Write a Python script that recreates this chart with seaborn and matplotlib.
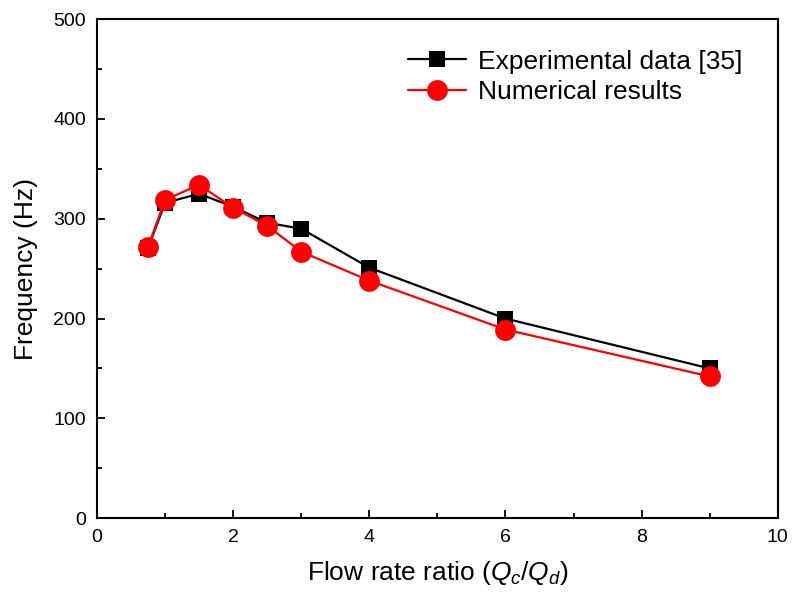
import pandas as pd
import seaborn as sns
import matplotlib.pyplot as plt
from matplotlib.ticker import MultipleLocator

# data
ratio = [0.75, 1, 1.5, 2, 2.5, 3, 4, 6, 9]
freq_exp = [271, 316, 325, 312, 296, 290, 251, 200, 150]
freq_num = [272, 319, 334, 311, 293, 267, 238, 189, 142]

sns.set_style("ticks")
plt.rcParams['font.family'] = ['Liberation Sans', 'DejaVu Sans']
plt.rcParams['mathtext.fontset'] = 'custom'
plt.rcParams['mathtext.it'] = 'Liberation Sans:italic'
plt.rcParams['mathtext.rm'] = 'Liberation Sans'
plt.rcParams['text.color'] = 'black'
plt.rcParams['axes.labelcolor'] = 'black'
plt.rcParams['xtick.color'] = 'black'
plt.rcParams['ytick.color'] = 'black'

df_exp = pd.DataFrame({"ratio": ratio, "freq": freq_exp})
df_num = pd.DataFrame({"ratio": ratio, "freq": freq_num})

fig = plt.figure(figsize=(7.92, 5.99), dpi=100)
ax = fig.add_axes([0.1225, 0.135, 0.8595, 0.833])

sns.lineplot(data=df_exp, x="ratio", y="freq", ax=ax, color="black",
             marker="s", markersize=12, linewidth=1.6, markeredgewidth=0,
             label="Experimental data [35]")
sns.lineplot(data=df_num, x="ratio", y="freq", ax=ax, color="red",
             marker="o", markersize=15, linewidth=1.6, markeredgewidth=0,
             label="Numerical results")

ax.set_xlim(0, 10)
ax.set_ylim(0, 500)
ax.xaxis.set_major_locator(MultipleLocator(2))
ax.xaxis.set_minor_locator(MultipleLocator(1))
ax.yaxis.set_major_locator(MultipleLocator(100))
ax.yaxis.set_minor_locator(MultipleLocator(50))
ax.tick_params(which="both", direction="in", labelsize=14, width=1.3,
               colors="black")
ax.tick_params(which="major", length=6, pad=8)
ax.tick_params(which="minor", length=3.5)
for s in ax.spines.values():
    s.set_linewidth(1.5)
    s.set_color("black")

ax.set_xlabel("Flow rate ratio ($Q_c$/$Q_d$)", fontsize=19, labelpad=9)
ax.set_ylabel("Frequency (Hz)", fontsize=19, labelpad=11)

ax.legend(loc="upper right", bbox_to_anchor=(0.993, 1.0), frameon=False,
          fontsize=19, handlelength=2.2, borderaxespad=0.75,
          handletextpad=0.45, labelspacing=0.25)

fig.savefig("out.png", dpi=100)
